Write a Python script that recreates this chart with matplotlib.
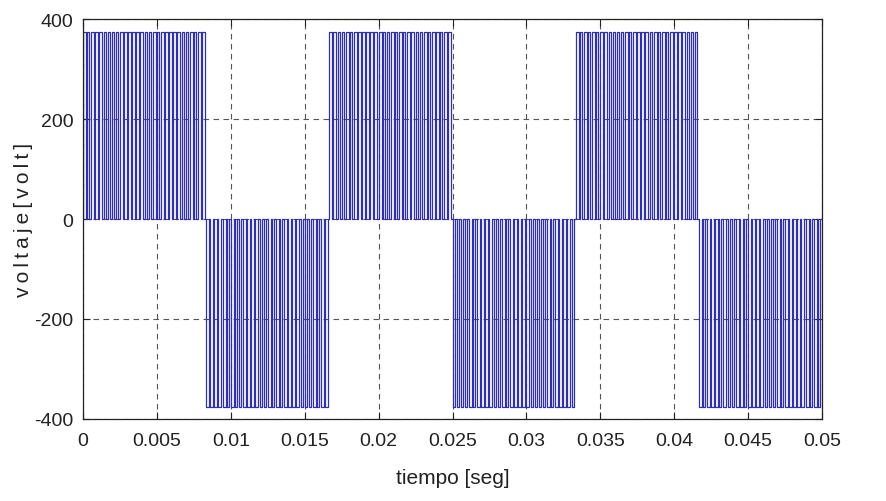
import numpy as np
import matplotlib
matplotlib.use('Agg')
import matplotlib.pyplot as plt

# inverter output: 60 Hz fundamental, chopped at a few kHz
f_fund = 60.0
v_dc = 375.0
t_end = 0.05
# duty of each chopping pulse inside one half cycle
duty = [0.70, 0.55, 0.65, 0.60, 0.72, 0.50, 0.68, 0.62, 0.58, 0.70,
        0.66, 0.60, 0.74, 0.56, 0.64, 0.70, 0.60, 0.68, 0.55, 0.72,
        0.62, 0.66, 0.58, 0.70, 0.60, 0.64, 0.72, 0.56, 0.68, 0.62]
polarity = [1, -1, 1, -1, 1, -1]

xticks = [0, 0.005, 0.01, 0.015, 0.02, 0.025, 0.03, 0.035, 0.04, 0.045, 0.05]
xticklabels = ['0', '0.005', '0.01', '0.015', '0.02', '0.025', '0.03', '0.035', '0.04', '0.045', '0.05']
yticks = [-400, -200, 0, 200, 400]
yticklabels = ['-400', '-200', '0', '200', '400']

# build the step waveform from the pulse table
half = 1.0 / f_fund / 2
tc = half / len(duty)
t = []
v = []
for k, s in enumerate(polarity):
    for i, d in enumerate(duty):
        t0 = k * half + i * tc
        t += [t0, t0, t0 + d * tc, t0 + d * tc]
        v += [0, s * v_dc, s * v_dc, 0]
t.append(t_end)
v.append(0)

plt.rcParams['font.family'] = ['Liberation Sans', 'DejaVu Sans']
plt.rcParams['axes.unicode_minus'] = False

fig = plt.figure(figsize=(8.86, 5.02), dpi=100)
ax = fig.add_axes([83 / 886, 1 - 420 / 502, 739 / 886, 400 / 502])
ax.plot(t, v, color='#3030a8', lw=0.9)

ax.set_xlim(0, t_end)
ax.set_ylim(-400, 400)
ax.set_xticks(xticks)
ax.set_xticklabels(xticklabels)
ax.set_yticks(yticks)
ax.set_yticklabels(yticklabels)
ax.tick_params(direction='in', top=True, right=True, labelsize=14, length=5, pad=7, colors='#222222')
ax.tick_params(axis='x', pad=9)
ax.grid(True, linestyle=(0, (5, 4)), color='#555555', lw=0.8)
for sp in ax.spines.values():
    sp.set_color('#222222')
    sp.set_linewidth(0.9)

ax.set_xlabel('tiempo [seg]', fontsize=15, color='#222222', labelpad=14)
ax.set_ylabel('v\u2009o\u2009l\u2009t\u2009a\u2009j\u2009e\u2009[\u2009v\u2009o\u2009l\u2009t\u2009]',
              fontsize=15, color='#222222', va='center')
ax.yaxis.set_label_coords(-0.08, 0.5)

fig.savefig('out.png', dpi=100)
